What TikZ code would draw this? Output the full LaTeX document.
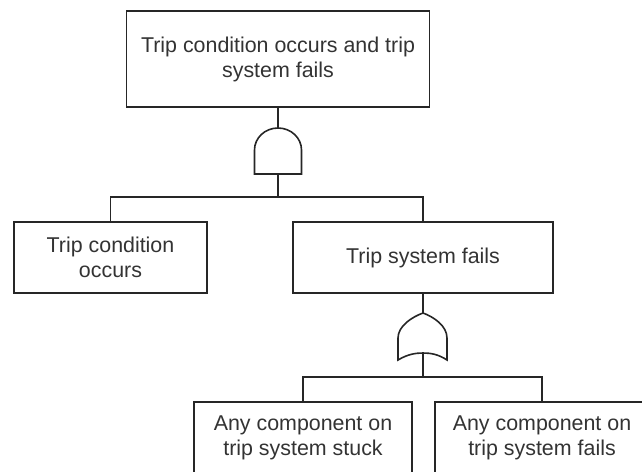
\documentclass[tikz,border=0pt]{standalone}
\usepackage{fontspec}
\setmainfont{Liberation Sans}
\begin{document}
\begin{tikzpicture}[x=1pt,y=-1pt,
  line width=1.6pt,
  wire/.style={draw=black!85},
  event/.style={draw=black!85, fill=white, rectangle, align=center,
    text=black!80, inner sep=0pt,
    font=\fontsize{21.4}{25}\selectfont},
  gate/.style={draw=black!85, fill=white, line join=miter}
]
\useasboundingbox (0,0) rectangle (642,471);
\clip (0,0) rectangle (642,471);

% events
\node[event, minimum width=303, minimum height=96] (top) at (278,59)
  {Trip condition occurs and trip\\system fails};
\node[event, minimum width=193, minimum height=71] (cond) at (110.5,257.5)
  {Trip condition\\occurs};
\node[event, minimum width=260, minimum height=71] (sys) at (423,257.5)
  {Trip system fails};
\node[event, minimum width=218, minimum height=71] (stuck) at (303,437.5)
  {Any component on\\trip system stuck};
\node[event, minimum width=214, minimum height=71] (fail) at (542,437.5)
  {Any component on\\trip system fails};

% AND gate (y axis points down, so the dome runs through 270 degrees)
\coordinate (andtop) at (278,128);
\coordinate (andbot) at (278,174);
\coordinate (andjoin) at (278,197);
\draw[gate] (254.5,174) -- (254.5,150)
  arc[start angle=180, end angle=360, x radius=23.5, y radius=22]
  -- (301.5,174) -- cycle;

% OR gate
\coordinate (ortop) at (423,313);
\coordinate (orbot) at (423,353);
\coordinate (orjoin) at (423,377);
\draw[gate] (398,360) -- (398,338)
  .. controls (398,326) and (412,317) .. (ortop)
  .. controls (434,317) and (447,326) .. (447,338)
  -- (447,360)
  .. controls (438,354) and (430,353) .. (orbot)
  .. controls (416,353) and (408,354) .. (398,360) -- cycle;

% connectors
\draw[wire] (top.south) -- (andtop);
\draw[wire] (andbot) -- (andjoin);
\draw[wire] (cond.north) |- (andjoin) -| (sys.north);
\draw[wire] (sys.south) -- (ortop);
\draw[wire] (orbot) -- (orjoin);
\draw[wire] (stuck.north) |- (orjoin) -| (fail.north);
\end{tikzpicture}
\end{document}
